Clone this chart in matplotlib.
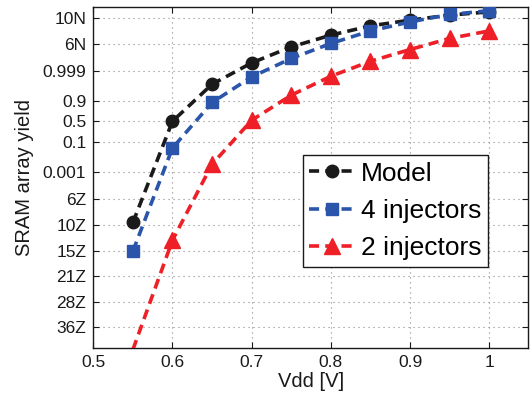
import math
import numpy as np
import matplotlib
matplotlib.use("Agg")
import matplotlib.pyplot as plt

plt.rcParams['font.family'] = ['Liberation Sans', 'DejaVu Sans']

# ---- data (y values are in probit units: standard-normal quantile of the yield) ----
vdd = [0.55, 0.60, 0.65, 0.70, 0.75, 0.80, 0.85, 0.90, 0.95, 1.00]
model_z = [-6.20, 0.01, 2.28, 3.59, 4.57, 5.29, 5.86, 6.21, 6.52, 6.72]
inj4_z = [-7.96, -1.63, 1.16, 2.73, 3.86, 4.78, 5.55, 6.10, 6.56, 6.79]
inj2_z = [-14.0, -7.29, -2.63, 0.07, 1.61, 2.77, 3.69, 4.41, 5.09, 5.55]

series_names = ['Model', '4 injectors', '2 injectors']

# y tick labels and their yields, as (side, log10 of tail probability)
ytick_labels = ['10N', '6N', '0.999', '0.9', '0.5', '0.1', '0.001',
                '6Z', '10Z', '15Z', '21Z', '28Z', '36Z']
ytick_side = [1, 1, 1, 1, 0, -1, -1, -1, -1, -1, -1, -1, -1]
ytick_tail_log10 = [-10, -6, -3, -1, None, -1, -3, -6, -10, -15, -21, -28, -36]

xticks = [0.5, 0.6, 0.7, 0.8, 0.9, 1.0]
xtick_labels = ['0.5', '0.6', '0.7', '0.8', '0.9', '1']


def tail_quantile(log10p):
    """z > 0 such that P(Z > z) = 10**log10p (bisection)."""
    target = log10p * math.log(10)
    lo, hi = 0.0, 40.0
    for _ in range(200):
        mid = 0.5 * (lo + hi)
        val = math.log(0.5 * math.erfc(mid / math.sqrt(2)))
        if val > target:
            lo = mid
        else:
            hi = mid
    return 0.5 * (lo + hi)


ytick_pos = []
for s, lp in zip(ytick_side, ytick_tail_log10):
    ytick_pos.append(0.0 if s == 0 else s * tail_quantile(lp))

colors = ['#1a1a1a', '#2b55aa', '#ee1f26']
markers = ['o', 's', '^']
msizes = [9, 8.5, 11]

fig = plt.figure(figsize=(5.31, 3.98), dpi=100)
ax = fig.add_axes([0.1757, 0.1264, 0.8193, 0.8553])

ylo, yhi = -13.88, 7.0
for ys, c, m, ms, name in zip([model_z, inj4_z, inj2_z], colors, markers, msizes, series_names):
    vis = [i for i, v in enumerate(ys) if ylo <= v <= yhi]
    ax.plot(vdd, ys, linestyle=(0, (2.8, 1.7)), linewidth=2.6, color=c,
            marker=m, markersize=ms, markerfacecolor=c, markeredgecolor=c,
            markevery=vis, label=name, zorder=3)

ax.set_xlim(0.5, 1.0494)
ax.set_ylim(ylo, yhi)
ax.set_xticks(xticks)
ax.set_xticklabels(xtick_labels)
ax.set_yticks(ytick_pos)
ax.set_yticklabels(ytick_labels)
ax.tick_params(direction='in', top=True, right=True, length=4, width=0.8,
               labelsize=12.5, colors='#1a1a1a', pad=5)
ax.grid(True, linestyle=(0, (1, 3.5)), color='#888888', linewidth=0.8)
for sp in ax.spines.values():
    sp.set_linewidth(1.0)
    sp.set_color('#1a1a1a')

ax.set_xlabel('Vdd [V]', fontsize=14.5, color='#1a1a1a', labelpad=2)
ax.set_ylabel('SRAM array yield', fontsize=14.5, color='#1a1a1a', labelpad=6)

leg = ax.legend(loc='upper right', bbox_to_anchor=(0.907, 0.566), borderaxespad=0,
                fontsize=19, fancybox=False, edgecolor='#1a1a1a', framealpha=1,
                handlelength=1.7, handletextpad=0.25, borderpad=0.25,
                labelspacing=0.5)
leg.get_frame().set_linewidth(1.0)
leg.set_zorder(5)

fig.savefig('out.png', dpi=100)
